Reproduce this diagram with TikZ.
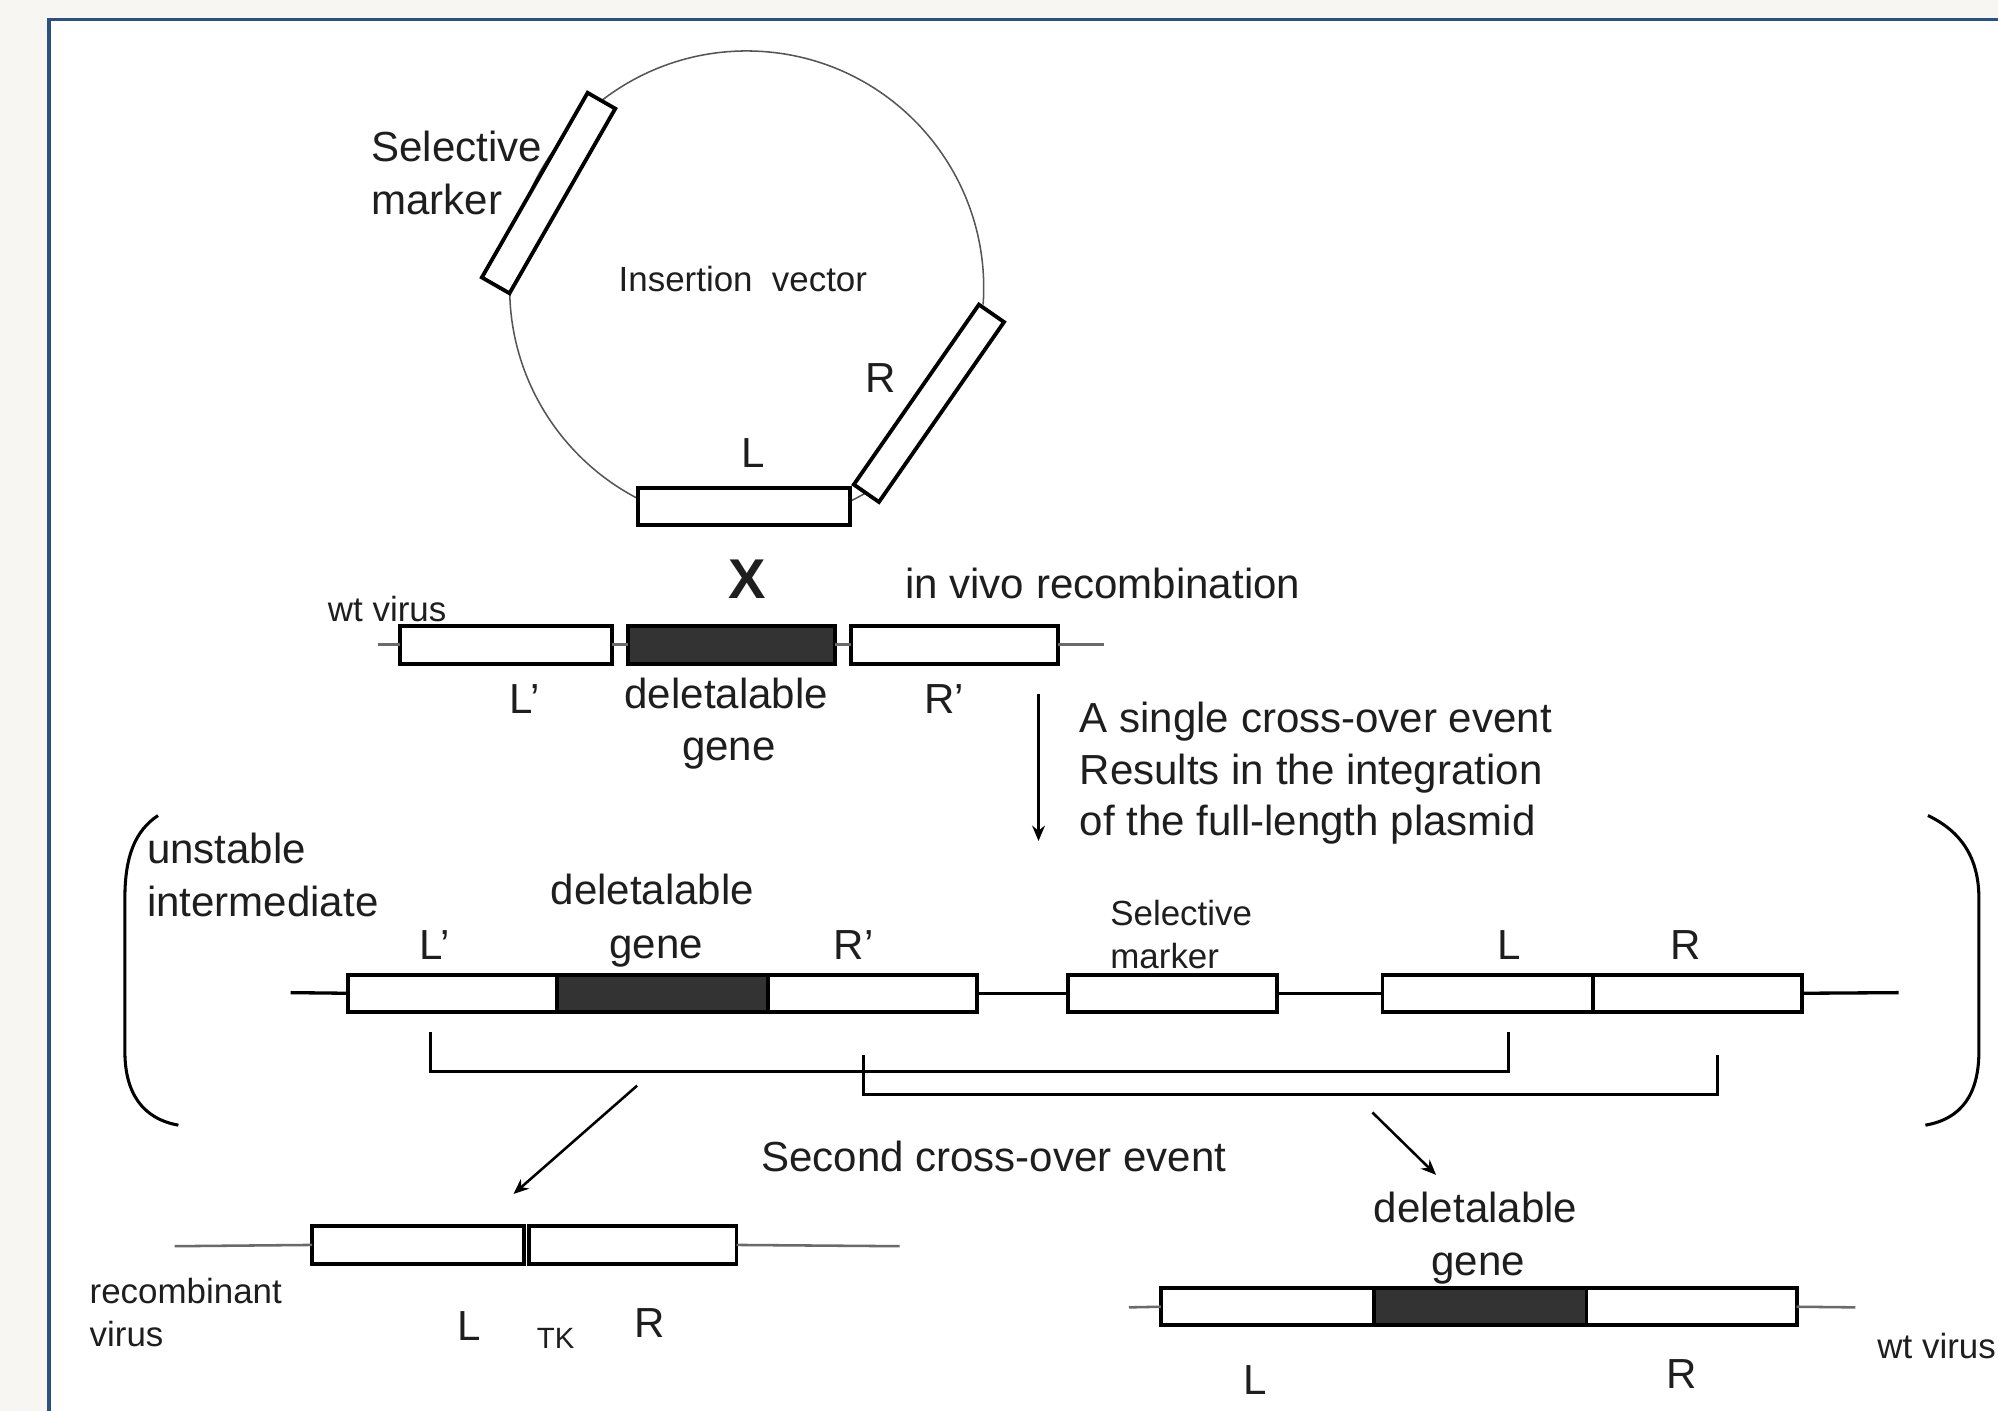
\documentclass[tikz,border=0pt]{standalone}
\usepackage{fontspec}
\setmainfont{Liberation Sans}
\usetikzlibrary{arrows.meta}
\definecolor{bgc}{HTML}{F8F6F2}
\definecolor{framec}{HTML}{2B5182}
\definecolor{txt}{HTML}{1E1E1E}
\definecolor{darkfill}{HTML}{333333}
\definecolor{dnagrey}{HTML}{6A6A6A}
\definecolor{ringc}{HTML}{555555}
\begin{document}
\begin{tikzpicture}[x=0.5pt,y=-0.5pt,
  big/.style={font=\fontsize{16.5}{20}\selectfont, text=txt, inner sep=0pt},
  small/.style={font=\fontsize{13.7}{17}\selectfont, text=txt, inner sep=0pt},
  tk/.style={font=\fontsize{11.5}{14}\selectfont, text=txt, inner sep=0pt},
  crossx/.style={font=\fontsize{22}{22}\selectfont\bfseries, text=txt, inner sep=0pt},
  gbox/.style={draw=black, line width=1.5pt, fill=white, minimum height=15pt, inner sep=0pt, outer sep=0pt},
  dbox/.style={gbox, fill=darkfill},
  dna/.style={line width=1pt, draw=dnagrey},
  dnab/.style={line width=1.3pt, draw=black},
  brk/.style={line width=1.2pt, draw=black},
  arr/.style={line width=1pt, draw=black, -{Stealth[length=6pt,width=5pt]}},
  paren/.style={line width=1.2pt, draw=black}
]
\useasboundingbox (0,0) rectangle (1568,1107);
\fill[bgc] (0,0) rectangle (1568,1107);
\fill[white] (38.5,15.3) rectangle (1568,1107);
\draw[framec, line width=1.4pt] (38.5,1107) -- (38.5,15.3) -- (1568,15.3);

% ---------------- plasmid ----------------
\node[circle, minimum size=186pt, inner sep=0pt, outer sep=0pt] (plasmid) at (586,226) {};
\draw[ringc, line width=0.6pt] (plasmid.-4) arc[start angle=-4, end angle=300, radius=93pt];
\node[gbox, minimum width=83.5pt, minimum height=12.5pt, rotate=60.2] (smTop) at (430.5,151.5) {};
\node[gbox, minimum width=86pt, minimum height=12pt, rotate=55.2] (rTopBox) at (729,316.5) {};
\node[gbox, minimum width=83pt, minimum height=14.5pt] (lTopBox) at (584,397.5) {};

\node[big, anchor=base west] (selT1) at (291,127) {Selective};
\node[big, anchor=base west] (selT2) at (291,168) {marker};
\node[small, anchor=base] (ivec) at (583,229) {Insertion\ \ vector};
\node[big, anchor=base] (rTop) at (691,308) {R};
\node[big, anchor=base] (lTop) at (591,367) {L};
\node[crossx, anchor=base] (cross) at (586,470) {X};
\node[big, anchor=base west] (invivo) at (710,470) {in vivo recombination};

% ---------------- wt virus (top) ----------------
\coordinate (w1s) at (297,506);
\coordinate (w1e) at (866,506);
\node[gbox, minimum width=83pt] (Lp1) at (397,506) {};
\node[dbox, minimum width=81pt] (D1) at (574,506) {};
\node[gbox, minimum width=81pt] (Rp1) at (749,506) {};
\draw[dna] (w1s) -- (Lp1.west);
\draw[dna] (Lp1.east) -- (D1.west);
\draw[dna] (D1.east) -- (Rp1.west);
\draw[dna] (Rp1.east) -- (w1e);

\node[small, anchor=base west] (wt1) at (257,488) {wt virus};
\node[big, anchor=base] (lp1t) at (412,560) {L’};
\node[big, anchor=base] (del1) at (570,556) {deletalable};
\node[big, anchor=base] (gene1) at (572,597) {gene};
\node[big, anchor=base] (rp1t) at (741,560) {R’};

\coordinate (a1s) at (815,545);
\coordinate (a1e) at (815,660);
\draw[arr] (a1s) -- (a1e);
\node[big, anchor=base west] (sc1) at (847,575) {A single cross-over event};
\node[big, anchor=base west] (sc2) at (847,616) {Results in the integration};
\node[big, anchor=base west] (sc3) at (847,656) {of the full-length plasmid};

% ---------------- unstable intermediate ----------------
\draw[paren] (124,640) .. controls (106,652) and (98,672) .. (98,705) -- (98,825) .. controls (98,858) and (112,878) .. (140,883);
\draw[paren] (1513,640) .. controls (1538,652) and (1553,672) .. (1553,705) -- (1553,825) .. controls (1553,858) and (1540,878) .. (1511,883);

\node[big, anchor=base west] (un1) at (115,678) {unstable};
\node[big, anchor=base west] (un2) at (115,719) {intermediate};

\coordinate (i1s) at (228,779);
\coordinate (i1e) at (1490,779);
\node[gbox, minimum width=82pt, minimum height=14.5pt] (Lp2) at (355,779.5) {};
\node[dbox, minimum width=83pt, minimum height=14.5pt] (D2) at (520,779.5) {};
\node[gbox, minimum width=82pt, minimum height=14.5pt] (Rp2) at (685,779.5) {};
\node[gbox, minimum width=82pt, minimum height=14.5pt] (SM2) at (920,779.5) {};
\node[gbox, minimum width=82.5pt, minimum height=14.5pt] (L2) at (1167.5,779.5) {};
\node[gbox, minimum width=82pt, minimum height=14.5pt] (R2) at (1332,779.5) {};
\draw[dnab] (i1s) -- (Lp2.west);
\draw[dnab] (Rp2.east) -- (SM2.west);
\draw[dnab] (SM2.east) -- (L2.west);
\draw[dnab] (R2.east) -- (i1e);

\node[big, anchor=base] (del2) at (512,710) {deletalable};
\node[big, anchor=base] (gene2) at (515,752) {gene};
\node[big, anchor=base] (lp2t) at (341,753) {L’};
\node[big, anchor=base] (rp2t) at (670,753) {R’};
\node[small, anchor=base west] (sm2a) at (871,726) {Selective};
\node[small, anchor=base west] (sm2b) at (871,760) {marker};
\node[big, anchor=base] (l2t) at (1184,753) {L};
\node[big, anchor=base] (r2t) at (1323,753) {R};

\coordinate (b1a) at (338,810);
\coordinate (b1b) at (1184,810);
\draw[brk] (b1a) -- ++(0,31) -| (b1b);
\coordinate (b2a) at (678,828);
\coordinate (b2b) at (1348,828);
\draw[brk] (b2a) -- ++(0,31) -| (b2b);

% ---------------- second cross-over ----------------
\coordinate (a2s) at (500,852);
\coordinate (a2e) at (403,937);
\draw[arr] (a2s) -- (a2e);
\coordinate (a3s) at (1077,873);
\coordinate (a3e) at (1127,922);
\draw[arr] (a3s) -- (a3e);
\node[big, anchor=base west] (second) at (597,919) {Second cross-over event};

% ---------------- recombinant virus ----------------
\coordinate (r1s) at (137,978);
\coordinate (r1e) at (706,978);
\node[gbox, minimum width=83pt] (RL) at (328,977) {};
\node[gbox, minimum width=81.5pt] (RR) at (496.5,977) {};
\draw[dna] (r1s) -- (RL.west);
\draw[dna] (RR.east) -- (r1e);
\node[small, anchor=base west] (rec1) at (70,1023) {recombinant};
\node[small, anchor=base west] (rec2) at (70,1057) {virus};
\node[big, anchor=base] (l3t) at (368,1052) {L};
\node[tk, anchor=base] (tkt) at (436,1058) {TK};
\node[big, anchor=base] (r3t) at (510,1050) {R};

% ---------------- wt virus (bottom) ----------------
\node[big, anchor=base] (del3) at (1158,959) {deletalable};
\node[big, anchor=base] (gene3) at (1160,1001) {gene};
\coordinate (w2s) at (886,1026);
\coordinate (w2e) at (1456,1026);
\node[gbox, minimum width=83.5pt, minimum height=14.5pt] (WL) at (994.5,1025.5) {};
\node[dbox, minimum width=83.5pt, minimum height=14.5pt] (WD) at (1161.5,1025.5) {};
\node[gbox, minimum width=82.5pt, minimum height=14.5pt] (WR) at (1327.5,1025.5) {};
\draw[dna] (w2s) -- (WL.west);
\draw[dna] (WR.east) -- (w2e);
\node[small, anchor=base west] (wt2) at (1473,1066) {wt virus};
\node[big, anchor=base] (l4t) at (985,1094) {L};
\node[big, anchor=base] (r4t) at (1320,1090) {R};
\end{tikzpicture}
\end{document}
